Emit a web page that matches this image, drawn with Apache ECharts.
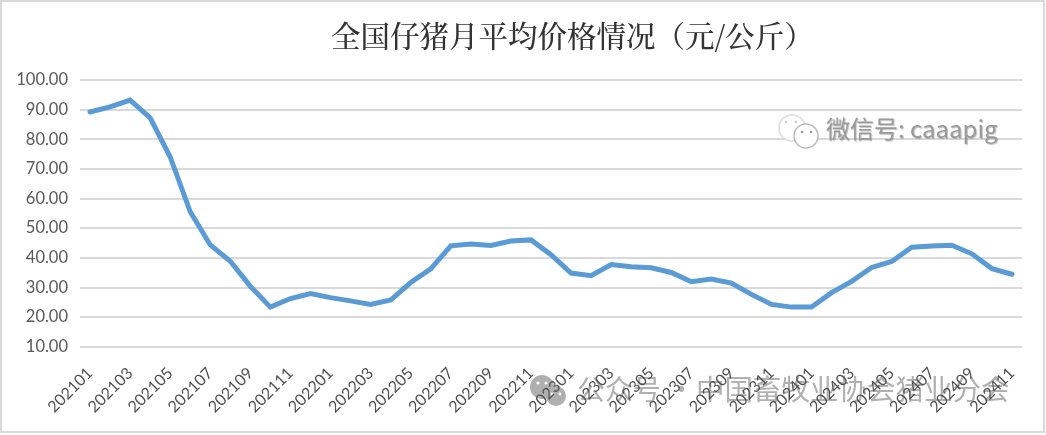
<!DOCTYPE html>
<html><head><meta charset="utf-8">
<script src="https://cdn.jsdelivr.net/npm/echarts@6/dist/echarts.min.js"></script>
<style>html,body{margin:0;padding:0;background:#fff}#c{width:1046px;height:435px}</style>
</head><body><div id="c"></div>
<script>
const titleText = '全国仔猪月平均价格情况（元/公斤）';
const categories = ['202101','202102','202103','202104','202105','202106','202107','202108','202109','202110','202111','202112',
'202201','202202','202203','202204','202205','202206','202207','202208','202209','202210','202211','202212',
'202301','202302','202303','202304','202305','202306','202307','202308','202309','202310','202311','202312',
'202401','202402','202403','202404','202405','202406','202407','202408','202409','202410','202411'];
const prices = [89.2,90.9,93.2,87.2,74,55.5,44.3,38.8,30.3,23.3,26.2,27.9,
26.5,25.4,24.2,25.7,31.6,36.2,44,44.6,44.1,45.6,46,41,
34.8,33.9,37.7,36.9,36.6,35,31.9,32.8,31.4,27.6,24.2,23.3,
23.3,28.2,32,36.7,38.7,43.5,43.9,44.2,41.3,36.3,34.4];
const watermarkTop = '微信号: caaapig';
const watermarkAccount = '公众号 ·';
const watermarkName = '中国畜牧业协会猪业分会';

const chart = echarts.init(document.getElementById('c'), null, {renderer:'canvas'});
const wmGray = '#b0b0b0';
chart.setOption({
  animation:false,
  backgroundColor:'#fff',
  title:{text:titleText,left:331,top:21,padding:0,
    textStyle:{fontFamily:'"Noto Serif CJK SC","Noto Sans CJK SC",serif',fontSize:29.5,fontWeight:500,color:'#333'}},
  grid:{left:80,right:24,top:80,bottom:88.5},
  xAxis:{type:'category',z:50,data:categories,boundaryGap:true,
    axisLine:{show:false},axisTick:{show:false},splitLine:{show:false},
    axisLabel:{interval:1,rotate:45,margin:24,padding:[8,0,0,0],fontFamily:'Lato',fontSize:16,color:'#505050'}},
  yAxis:{type:'value',min:10,max:100,interval:10,
    axisLine:{show:false},axisTick:{show:false},
    splitLine:{lineStyle:{color:'#d9d9d9',width:2}},
    axisLabel:{margin:12,padding:[3,0,0,0],fontFamily:'Lato',fontSize:16.5,color:'#595959',formatter:v=>v.toFixed(2)}},
  series:[{type:'line',data:prices,symbol:'none',smooth:false,
    lineStyle:{color:'#5B9BD5',width:5,cap:'round',join:'miter'}}],
  graphic:[
    {type:'rect',z:0,silent:true,shape:{x:1,y:1,width:1043,height:431},style:{fill:'none',stroke:'#d9d9d9',lineWidth:2}},
    {type:'text',z:100,silent:true,left:826,top:117,style:{text:watermarkTop,fontFamily:'"Noto Sans CJK SC",sans-serif',fontSize:24,fill:'#9a9a9a',textShadowColor:'rgba(0,0,0,0.25)',textShadowBlur:1,textShadowOffsetX:1,textShadowOffsetY:1}},
    {type:'circle',z:100,silent:true,shape:{cx:792,cy:128,r:13},style:{fill:'#fff',stroke:'#ddd',lineWidth:1.5}},
    {type:'circle',z:101,silent:true,shape:{cx:806,cy:136,r:12},style:{fill:'#fff',stroke:'#bbb',lineWidth:1.5}},
    {type:'circle',z:102,silent:true,shape:{cx:786,cy:122,r:1.3},style:{fill:'#ccc'}},
    {type:'circle',z:102,silent:true,shape:{cx:796,cy:122,r:1.3},style:{fill:'#ccc'}},
    {type:'circle',z:102,silent:true,shape:{cx:802,cy:132,r:1.3},style:{fill:'#999'}},
    {type:'circle',z:102,silent:true,shape:{cx:811,cy:132,r:1.3},style:{fill:'#999'}},
    {type:'circle',z:1,silent:true,shape:{cx:542,cy:387,r:12},style:{fill:wmGray}},
    {type:'circle',z:1,silent:true,shape:{cx:556,cy:396,r:10},style:{fill:wmGray}},
    {type:'circle',z:2,silent:true,shape:{cx:538,cy:383,r:1.6},style:{fill:'#fff'}},
    {type:'circle',z:2,silent:true,shape:{cx:546,cy:383,r:1.6},style:{fill:'#fff'}},
    {type:'circle',z:2,silent:true,shape:{cx:552,cy:394,r:1.4},style:{fill:'#fff'}},
    {type:'circle',z:2,silent:true,shape:{cx:560,cy:394,r:1.4},style:{fill:'#fff'}},
    {type:'text',z:1,silent:true,left:577,top:375,style:{text:watermarkAccount,fontFamily:'"Noto Sans CJK SC",sans-serif',fontSize:28,fill:wmGray}},
    {type:'text',z:1,silent:true,left:696,top:375,style:{text:watermarkName,fontFamily:'"Noto Sans CJK SC",sans-serif',fontSize:28.5,fill:wmGray}}
  ]
});
</script></body></html>
